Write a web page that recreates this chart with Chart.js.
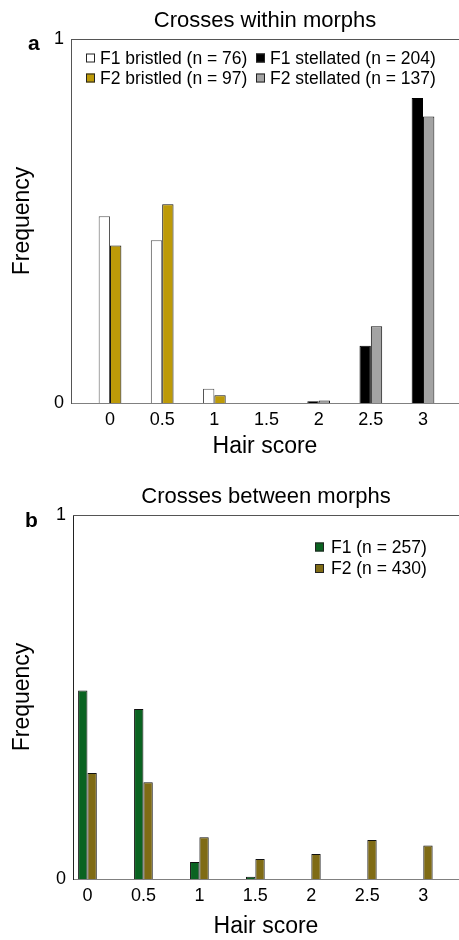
<!DOCTYPE html>
<html>
<head>
<meta charset="utf-8">
<script src="https://cdn.jsdelivr.net/npm/chart.js@4.4.1/dist/chart.umd.min.js"></script>
<style>
  body { margin: 0; background: #fff; }
  canvas { position: absolute; left: 0; }
</style>
</head>
<body>
<canvas id="chartA" width="459" height="460" style="top:0px"></canvas>
<canvas id="chartB" width="459" height="480" style="top:460px"></canvas>
<script>
// hair score categories (x axis ticks)
const hairScores = [0, 0.5, 1, 1.5, 2, 2.5, 3];

// panel a - crosses within morphs
const labelsA = ["F1 bristled (n = 76)", "F2 bristled (n = 97)", "F1 stellated (n = 204)", "F2 stellated (n = 137)"];
const f1Bristled = [0.513, 0.447, 0.039, null, null, null, null];
const f2Bristled = [0.433, 0.546, 0.021, null, null, null, null];
const f1Stellated = [null, null, null, null, 0.005, 0.157, 0.838];
const f2Stellated = [null, null, null, null, 0.007, 0.211, 0.787];

// panel b - crosses between morphs
const labelsB = ["F1 (n = 257)", "F2 (n = 430)"];
const f1Between = [0.518, 0.467, 0.047, 0.006, null, null, null];
const f2Between = [0.291, 0.266, 0.115, 0.055, 0.069, 0.107, 0.092];

const FONT = "'Liberation Sans', Arial, sans-serif";
Chart.defaults.font.family = FONT;
Chart.defaults.color = "#000";

const toPoints = (vals) => hairScores.map((x, i) => ({ x: x, y: vals[i] }));

// legend drawn inside the plot, one square per dataset
const boxLegend = {
  id: "boxLegend",
  afterDraw(chart, args, opts) {
    const ctx = chart.ctx;
    ctx.save();
    ctx.font = "17.5px " + FONT;
    ctx.textBaseline = "middle";
    chart.data.datasets.forEach((ds, i) => {
      const [x, y] = opts.items[i];
      ctx.fillStyle = ds.backgroundColor;
      ctx.fillRect(x, y - 4.5, 9, 9);
      ctx.strokeStyle = "#222";
      ctx.lineWidth = 1;
      ctx.strokeRect(x + 0.5, y - 4, 8, 8);
      ctx.fillStyle = "#000";
      ctx.fillText(ds.label, x + opts.gap, y + 1);
    });
    ctx.restore();
  },
};

// top frame line + panel letter
const panelFrame = {
  id: "panelFrame",
  afterDraw(chart, args, opts) {
    const { ctx, chartArea } = chart;
    ctx.save();
    ctx.strokeStyle = "#555";
    ctx.lineWidth = 1;
    ctx.beginPath();
    ctx.moveTo(chartArea.left, chartArea.top + 0.5);
    ctx.lineTo(chartArea.right, chartArea.top + 0.5);
    ctx.stroke();
    ctx.font = "bold 21px " + FONT;
    ctx.fillStyle = "#000";
    ctx.fillText(opts.letter, opts.x, opts.y);
    ctx.restore();
  },
};

const makeOptions = (cfg) => ({
  responsive: false,
  animation: false,
  barPercentage: 1,
  categoryPercentage: cfg.groupWidth,
  layout: { padding: 0 },
  plugins: {
    legend: { display: false },
    tooltip: { enabled: false },
    title: {
      display: true,
      text: cfg.title,
      fullSize: false,
      font: { size: 22, weight: "normal" },
      padding: cfg.titlePad,
    },
    boxLegend: cfg.legend,
    panelFrame: cfg.panel,
  },
  scales: {
    x: {
      type: "linear",
      min: cfg.xMin,
      max: cfg.xMax,
      offset: false,
      afterBuildTicks: (axis) => {
        axis.ticks = hairScores.map((v) => ({ value: v }));
      },
      afterFit: (axis) => {
        axis.height = cfg.xHeight;
      },
      grid: { display: false, drawTicks: false, offset: false },
      border: { display: true, color: "#808080", width: 1 },
      ticks: { padding: 6, font: { size: 18 }, callback: (v) => String(v) },
      title: { display: true, text: "Hair score", font: { size: 23 }, padding: { top: cfg.xTitlePad, bottom: 0 } },
    },
    y: {
      min: 0,
      max: 1,
      afterFit: (axis) => {
        axis.width = cfg.yWidth;
      },
      grid: { display: false, drawTicks: false },
      border: { display: true, color: cfg.yColor, width: 1 },
      ticks: { stepSize: 1, padding: 7, font: { size: 18 } },
      title: { display: true, text: "Frequency", font: { size: 23 }, padding: { top: 9, bottom: 0 } },
    },
  },
});

new Chart(document.getElementById("chartA"), {
  type: "bar",
  data: {
    datasets: [
      { label: labelsA[0], data: toPoints(f1Bristled), stack: "F1", backgroundColor: "#ffffff", borderColor: "#555", borderWidth: 1 },
      { label: labelsA[1], data: toPoints(f2Bristled), stack: "F2", backgroundColor: "#bd9a08", borderColor: "#111", borderWidth: 1 },
      { label: labelsA[2], data: toPoints(f1Stellated), stack: "F1", backgroundColor: "#000000", borderColor: "#000", borderWidth: 1 },
      { label: labelsA[3], data: toPoints(f2Stellated), stack: "F2", backgroundColor: "#a3a3a3", borderColor: "#111", borderWidth: 1 },
    ],
  },
  options: makeOptions({
    title: "Crosses within morphs",
    titlePad: { top: 8, bottom: 4.6 },
    xMin: -0.374,
    xMax: 3.345,
    xHeight: 57,
    xTitlePad: 1,
    yWidth: 71,
    yColor: "#555",
    groupWidth: 0.435,
    legend: { items: [[86, 58], [86, 78], [256, 58], [256, 78]], gap: 14 },
    panel: { letter: "a", x: 28, y: 50 },
  }),
  plugins: [boxLegend, panelFrame],
});

new Chart(document.getElementById("chartB"), {
  type: "bar",
  data: {
    datasets: [
      { label: labelsB[0], data: toPoints(f1Between), stack: "F1", backgroundColor: "#0a6321", borderColor: "#111", borderWidth: 1 },
      { label: labelsB[1], data: toPoints(f2Between), stack: "F2", backgroundColor: "#7f6b15", borderColor: "#111", borderWidth: 1 },
    ],
  },
  options: makeOptions({
    title: "Crosses between morphs",
    titlePad: { top: 24, bottom: 4.6 },
    xMin: -0.129,
    xMax: 3.319,
    xHeight: 61,
    xTitlePad: 0,
    yWidth: 73,
    yColor: "#222",
    groupWidth: 0.334,
    legend: { items: [[315, 87], [315, 108.5]], gap: 16 },
    panel: { letter: "b", x: 25, y: 67 },
  }),
  plugins: [boxLegend, panelFrame],
});
</script>
</body>
</html>
